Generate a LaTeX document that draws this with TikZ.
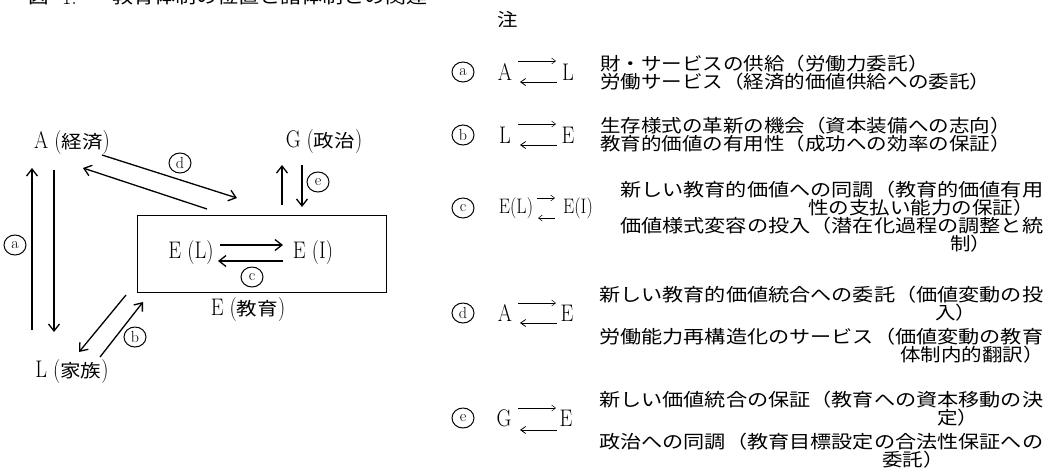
\documentclass[tikz,border=0pt]{standalone}
\usepackage{fontspec}
\usepackage{graphicx}
\newfontfamily\jpf{Noto Sans CJK JP}
\usetikzlibrary{arrows.meta,shapes.geometric}
\newcommand\J[1]{\scalebox{1.14}[1]{\fontsize{18}{18}\selectfont\jpf #1}}
\newcommand\lt[1]{\scalebox{0.85}[1]{\fontsize{24}{24}\selectfont #1}}
\newcommand\fw[2]{\resizebox{#1pt}{\height}{\jpf #2}}
\newcommand\nj[1]{\scalebox{1.14}[1]{\jpf #1}}
\begin{document}
\begin{tikzpicture}[x=1pt,y=-1pt,
  every node/.style={inner sep=0pt, font=\fontsize{18}{18}\selectfont},
  ln/.style={anchor=west},
  cl/.style={ellipse, draw, line width=1pt, minimum width=22pt, minimum height=20pt, font=\fontsize{16}{16}\selectfont},
  big/.style={line width=1.3pt, -{Straight Barb[length=7pt,width=11pt]}},
  sm/.style={line width=0.5pt, -{Straight Barb[length=4pt,width=6pt]}},
  smb/.style={line width=0.8pt, -{Straight Barb[length=5pt,width=7pt]}}]
\clip (0,0) rectangle (1049,475);
\fill[white] (0,0) rectangle (1049,475);

% title (cut at the top)
\node[ln] (t1) at (28,-3) {\nj{図}};
\node[ln] (t2) at (62,-3) {\lt{1.}};
\node[ln] (t3) at (112,-3) {\fw{315}{教育体制の位置と諸体制との関連}};

% ---------- left diagram ----------
\node (A) at (72,143) {\lt{A (}\J{経済}\lt{)}};
\node (G) at (324,142) {\lt{G (}\J{政治}\lt{)}};
\node (L) at (72,372) {\lt{L (}\J{家族}\lt{)}};
\node[draw, line width=1pt, anchor=north west, minimum width=249pt, minimum height=77pt] (box) at (137,215) {};
\node (EL) at (191,253) {\lt{E (L)}};
\node (EI) at (313,253) {\lt{E (I)}};
\node (Eedu) at (248,310) {\lt{E (}\J{教育}\lt{)}};

\node[cl] (la) at (15,245) {a};
\node[cl] (ld) at (180,163) {d};
\node[cl] (le) at (318,182) {e};
\node[cl] (lc) at (252,277) {c};
\node[cl] (lb) at (135,337) {b};

\coordinate (a1s) at (32,330); \coordinate (a1e) at (32,168);
\coordinate (a2s) at (54,170); \coordinate (a2e) at (54,332);
\draw[big] (a1s) -- (a1e);
\draw[big] (a2s) -- (a2e);

\coordinate (d1s) at (102,155); \coordinate (d1e) at (237,198);
\coordinate (d2s) at (207,209); \coordinate (d2e) at (83,168);
\draw[big] (d1s) -- (d1e);
\draw[big] (d2s) -- (d2e);

\coordinate (e1s) at (282,205); \coordinate (e1e) at (282,165);
\coordinate (e2s) at (302,165); \coordinate (e2e) at (302,207);
\draw[big] (e1s) -- (e1e);
\draw[big] (e2s) -- (e2e);

\coordinate (c1s) at (220,245); \coordinate (c1e) at (283,245);
\coordinate (c2s) at (283,261); \coordinate (c2e) at (218,261);
\draw[big] (c1s) -- (c1e);
\draw[big] (c2s) -- (c2e);

\coordinate (b1s) at (126,295); \coordinate (b1e) at (79,352);
\coordinate (b2s) at (100,357); \coordinate (b2e) at (143,302);
\draw[big] (b1s) -- (b1e);
\draw[big] (b2s) -- (b2e);

% ---------- notes ----------
\node (note) at (508,20) {\nj{注}};

% row a
\node[cl] (na) at (463,72) {a};
\node (naA) at (505,72) {\lt{A}};
\node (naL) at (568,72) {\lt{L}};
\coordinate (naU1) at (518,61); \coordinate (naU2) at (556,61);
\coordinate (naD1) at (557,82); \coordinate (naD2) at (520,82);
\draw[sm] (naU1) -- (naU2);
\draw[smb] (naD1) -- (naD2);
\node[ln] (a1) at (600,64) {\nj{財・サービスの供給（労働力委託）}};
\node[ln] (a2) at (600,82) {\nj{労働サービス（経済的価値供給への委託）}};

% row b
\node[cl] (nb) at (463,135) {b};
\node (nbL) at (505,135) {\lt{L}};
\node (nbE) at (568,135) {\lt{E}};
\coordinate (nbU1) at (518,124); \coordinate (nbU2) at (556,124);
\coordinate (nbD1) at (557,145); \coordinate (nbD2) at (520,145);
\draw[sm] (nbU1) -- (nbU2);
\draw[smb] (nbD1) -- (nbD2);
\node[ln] (b1) at (600,126) {\nj{生存様式の革新の機会（資本装備への志向）}};
\node[ln] (b2) at (600,144) {\nj{教育的価値の有用性（成功への効率の保証）}};

% row c
\node[cl] (nc) at (463,208) {c};
\node (ncL) at (516,208) {\scalebox{0.85}[1]{\fontsize{21}{21}\selectfont E(L)}};
\node (ncI) at (578,208) {\scalebox{0.85}[1]{\fontsize{21}{21}\selectfont E(I)}};
\coordinate (ncU1) at (537,198); \coordinate (ncU2) at (555,198);
\coordinate (ncD1) at (555,218); \coordinate (ncD2) at (538,218);
\draw[sm] (ncU1) -- (ncU2);
\draw[sm] (ncD1) -- (ncD2);
\node[ln] (c1) at (620,190) {\fw{423}{新しい教育的価値への同調（教育的価値有用}};
\node[ln] (c2) at (808,208) {\nj{性の支払い能力の保証）}};
\node[ln] (c3) at (620,226) {\fw{423}{価値様式変容の投入（潜在化過程の調整と統}};
\node[ln] (c4) at (950,244) {\nj{制）}};

% row d
\node[cl] (nd) at (463,313) {d};
\node (ndA) at (505,313) {\lt{A}};
\node (ndE) at (567,313) {\lt{E}};
\coordinate (ndU1) at (518,303); \coordinate (ndU2) at (556,303);
\coordinate (ndD1) at (557,323); \coordinate (ndD2) at (520,323);
\draw[sm] (ndU1) -- (ndU2);
\draw[smb] (ndD1) -- (ndD2);
\node[ln] (d1) at (599,295) {\fw{444}{新しい教育的価値統合への委託（価値変動の投}};
\node[ln] (d2) at (935,313) {\nj{入）}};
\node[ln] (d3) at (599,337) {\fw{444}{労働能力再構造化のサービス（価値変動の教育}};
\node[ln] (d4) at (900,355) {\nj{体制内的翻訳）}};

% row e
\node[cl] (ne) at (463,418) {e};
\node (neG) at (504,418) {\lt{G}};
\node (neE) at (566,418) {\lt{E}};
\coordinate (neU1) at (518,408); \coordinate (neU2) at (556,408);
\coordinate (neD1) at (557,430); \coordinate (neD2) at (520,430);
\draw[sm] (neU1) -- (neU2);
\draw[smb] (neD1) -- (neD2);
\node[ln] (e1) at (599,400) {\fw{444}{新しい価値統合の保証（教育への資本移動の決}};
\node[ln] (e2) at (937,418) {\nj{定）}};
\node[ln] (e3) at (599,442) {\fw{444}{政治への同調（教育目標設定の合法性保証への}};
\node[ln] (e4) at (882,460) {\nj{委託）}};
\end{tikzpicture}
\end{document}
